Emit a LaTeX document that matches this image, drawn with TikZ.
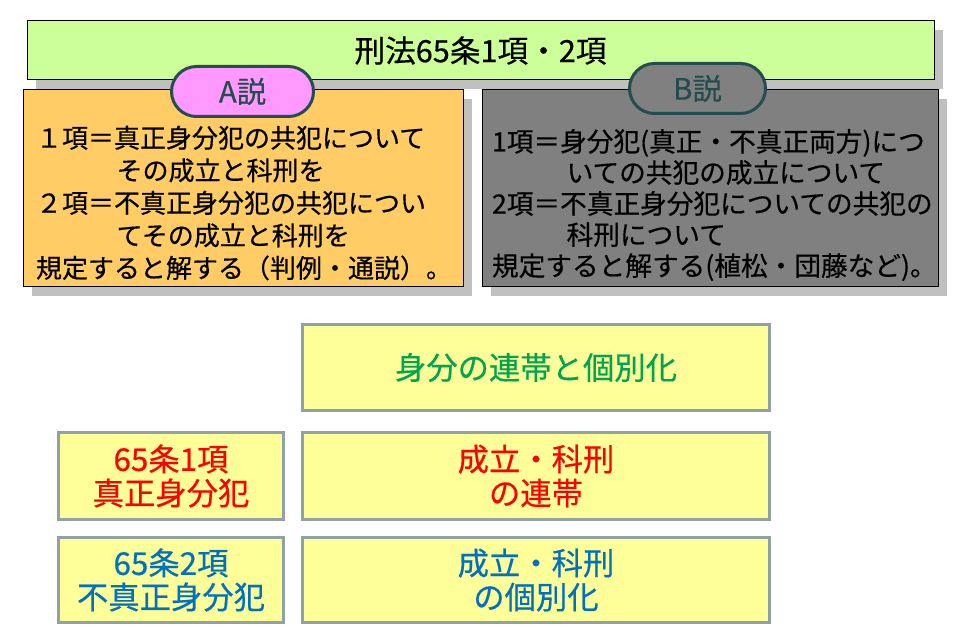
\documentclass[tikz,border=0pt]{standalone}
\usepackage{fontspec}
\setmainfont[FakeBold=0.5]{Noto Sans CJK JP}
\definecolor{shadowgray}{RGB}{192,192,192}
\definecolor{titlefill}{RGB}{204,255,153}
\definecolor{afill}{RGB}{255,204,102}
\definecolor{bfill}{RGB}{128,128,128}
\definecolor{pillpink}{RGB}{255,153,255}
\definecolor{pilledge}{RGB}{36,78,78}
\definecolor{lowfill}{RGB}{255,255,153}
\definecolor{lowedge}{RGB}{143,163,166}
\definecolor{txtgreen}{RGB}{0,165,80}
\definecolor{txtred}{RGB}{255,0,0}
\definecolor{txtblue}{RGB}{0,112,192}
\begin{document}
\begin{tikzpicture}[x=0.75pt,y=-0.75pt,
  every node/.style={inner sep=0pt, outer sep=0pt},
  shadowbox/.style={fill=shadowgray, draw=none},
  titlebox/.style={fill=titlefill, draw=black, line width=0.75pt,
    font=\fontsize{23pt}{27pt}\selectfont},
  theorybox/.style={draw=black, line width=0.75pt},
  pill/.style={draw=pilledge, line width=2.25pt, rounded corners=18.75pt,
    minimum height=37.5pt, text=pilledge, font=\fontsize{22pt}{26pt}\selectfont},
  bodytext/.style={align=left, anchor=west, text=black},
  lowbox/.style={fill=lowfill, draw=lowedge, line width=2.25pt,
    align=center, font=\fontsize{23.5pt}{25.5pt}\selectfont}
]
\useasboundingbox (0,0) rectangle (960,641);

% title
\node[shadowbox, minimum width=680.25pt, minimum height=44.25pt] (titleshadow) at (489.5,59.5) {};
\node[titlebox, minimum width=680.25pt, minimum height=44.25pt] (title) at (480.5,50.5) {刑法65条1項・2項};

% A theory
\node[shadowbox, minimum width=330pt, minimum height=147.75pt] (ashadow) at (251.5,197.5) {};
\node[theorybox, fill=afill, minimum width=330pt, minimum height=147.75pt] (abox) at (243,188.5) {};
\node[bodytext, font=\fontsize{19.5pt}{24.4pt}\selectfont] (atext) at (36,203)
  {１項＝真正身分犯の共犯について\\
   \hspace*{3.1em}その成立と科刑を\\
   ２項＝不真正身分犯の共犯につい\\
   \hspace*{3.1em}てその成立と科刑を\\
   規定すると解する（判例・通説）。};

% B theory
\node[shadowbox, minimum width=342pt, minimum height=147.75pt] (bshadow) at (718.5,197.5) {};
\node[theorybox, fill=bfill, minimum width=342pt, minimum height=147.75pt] (bbox) at (710,188.5) {};
\node[bodytext, font=\fontsize{20pt}{23.3pt}\selectfont] (btext) at (492,205)
  {1項＝身分犯(真正・不真正両方)につ\\
   \hspace*{2.8em}いての共犯の成立について\\
   2項＝不真正身分犯についての共犯の\\
   \hspace*{2.8em}科刑について\\
   規定すると解する(植松・団藤など)。};

% pills
\node[pill, fill=pillpink, minimum width=106.5pt] (apill) at (242.5,91.5) {A説};
\node[pill, fill=bfill, minimum width=102pt] (bpill) at (697.5,88.5) {B説};

% lower table
\node[lowbox, text=txtgreen, minimum width=350.25pt, minimum height=64.5pt] (header) at (536,367.5) {身分の連帯と個別化};
\node[lowbox, text=txtred, minimum width=168.75pt, minimum height=65.25pt] (art1) at (171,476) {65条1項\\真正身分犯};
\node[lowbox, text=txtred, minimum width=350.25pt, minimum height=65.25pt] (res1) at (536,476) {成立・科刑\\の連帯};
\node[lowbox, text=txtblue, minimum width=168.75pt, minimum height=63.75pt] (art2) at (171,580) {65条2項\\不真正身分犯};
\node[lowbox, text=txtblue, minimum width=350.25pt, minimum height=63.75pt] (res2) at (536,580) {成立・科刑\\の個別化};
\end{tikzpicture}
\end{document}
